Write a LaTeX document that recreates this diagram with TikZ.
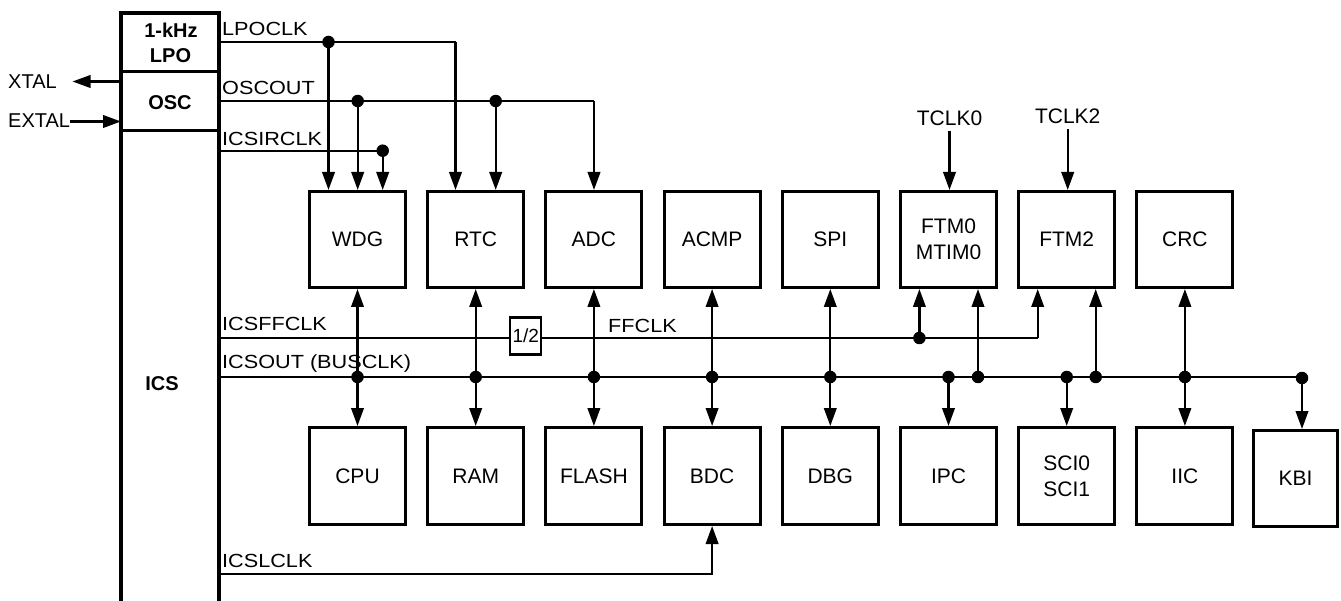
\documentclass[tikz,border=0pt]{standalone}
\usepackage{fontspec}
\setmainfont{Liberation Sans}
\newfontfamily\sigfont[FakeStretch=1.14]{Liberation Sans}
\usetikzlibrary{arrows.meta}
\begin{document}
\begin{tikzpicture}[x=1pt,y=-1pt,
  sig/.style={line width=2.3pt},
  arr/.style={sig,-{Triangle[length=18pt,width=12.5pt]}},
  arrtwo/.style={sig,{Triangle[length=18pt,width=12.5pt]}-{Triangle[length=18pt,width=12.5pt]}},
  blk/.style={draw,line width=3pt,minimum width=96pt,minimum height=96pt,inner sep=0pt,
    font=\fontsize{21}{26}\selectfont,align=center},
  dot/.style={circle,fill,inner sep=0pt,minimum size=12.5pt},
  lab/.style={font=\sigfont\fontsize{19}{23}\selectfont,inner sep=0pt,anchor=base west},
  plainlab/.style={font=\fontsize{20}{24}\selectfont,inner sep=0pt,anchor=base west},
  tlab/.style={font=\fontsize{21}{25}\selectfont,inner sep=0pt,anchor=base},
  boldlab/.style={font=\bfseries\fontsize{20}{24}\selectfont,inner sep=0pt,anchor=base},
]
\useasboundingbox (0,0) rectangle (1341,601);

% ICS block
\draw[line width=3.2pt] (121,601) -- (121,13) -- (219,13) -- (219,601);
\draw[line width=3pt] (121,72) -- (219,72) (121,131) -- (219,131);
\node[boldlab] (khz) at (171,38) {1-kHz};
\node[boldlab] (lpo) at (170.5,63) {LPO};
\node[boldlab] (osc) at (170,110) {OSC};
\node[boldlab] (ics) at (162,390) {ICS};

% XTAL / EXTAL
\node[plainlab] (xtal) at (8,89) {XTAL};
\node[plainlab] (extal) at (8,128) {EXTAL};
\coordinate (xtalout) at (121,81.5);
\coordinate (xtaltip) at (72.5,81.5);
\draw[arr] (xtalout) -- (xtaltip);
\coordinate (extalin) at (121,121.5);
\draw[arr] (extal.east |- extalin) -- (extalin);

% top blocks
\node[blk] (wdg)  at (357.5,239.5) {WDG};
\node[blk] (rtc)  at (475.7,239.5) {RTC};
\node[blk] (adc)  at (593.9,239.5) {ADC};
\node[blk] (acmp) at (712.1,239.5) {ACMP};
\node[blk] (spi)  at (830.3,239.5) {SPI};
\node[blk] (ftm0) at (948.5,239.5) {FTM0\\MTIM0};
\node[blk] (ftm2) at (1066.7,239.5) {FTM2};
\node[blk] (crc)  at (1184.9,239.5) {CRC};

% bottom blocks
\node[blk,minimum height=97pt] (cpu)   at (357.5,476) {CPU};
\node[blk,minimum height=97pt] (ram)   at (475.7,476) {RAM};
\node[blk,minimum height=97pt] (flash) at (593.9,476) {FLASH};
\node[blk,minimum height=97pt] (bdc)   at (712.1,476) {BDC};
\node[blk,minimum height=97pt] (dbg)   at (830.3,476) {DBG};
\node[blk,minimum height=97pt] (ipc)   at (948.5,476) {IPC};
\node[blk,minimum height=97pt] (sci)   at (1066.7,476) {SCI0\\SCI1};
\node[blk,minimum height=97pt] (iic)   at (1184.9,476) {IIC};
\node[blk,minimum width=84pt,minimum height=96pt] (kbi) at (1295.5,478.5) {KBI};

% LPOCLK
\coordinate (lpoclk) at (219,42);
\coordinate (lpoR) at (455.5,42);
\node[lab] (lpolab) at (222,36) {LPOCLK};
\node[dot] (d1) at (328.5,42) {};
\draw[sig] (lpoclk) -- (lpoR);
\draw[arr] (lpoR) -- (lpoR |- rtc.north);
\draw[arr] (d1.center) -- (d1.center |- wdg.north);

% OSCOUT
\coordinate (oscout) at (219,101);
\coordinate (oscR) at (594,101);
\node[lab] (osclab) at (222,95) {OSCOUT};
\node[dot] (d2) at (357.7,101) {};
\node[dot] (d3) at (495.7,101) {};
\draw[sig] (oscout) -- (oscR);
\draw[arr] (oscR) -- (oscR |- adc.north);
\draw[arr] (d2.center) -- (d2.center |- wdg.north);
\draw[arr] (d3.center) -- (d3.center |- rtc.north);

% ICSIRCLK
\coordinate (irclk) at (219,150.7);
\node[lab] (irlab) at (222,145.7) {ICSIRCLK};
\node[dot] (d4) at (382.7,150.7) {};
\draw[sig] (irclk) -- (d4.center);
\draw[arr] (d4.center) -- (d4.center |- wdg.north);

% TCLK inputs
\node[tlab] (tclk0) at (949.5,125.7) {TCLK0};
\node[tlab] (tclk2) at (1067.7,124) {TCLK2};
\draw[arr] ([yshift=-4.5pt]tclk0.south) -- (tclk0.south |- ftm0.north);
\draw[arr] ([yshift=-5pt]tclk2.south) -- (tclk2.south |- ftm2.north);

% ICSFFCLK / FFCLK
\coordinate (ff) at (219,338);
\node[lab] (fflab) at (222,331) {ICSFFCLK};
\node[draw,line width=2.3pt,minimum width=31pt,minimum height=37pt,inner sep=0pt,
  font=\fontsize{19}{22}\selectfont] (half) at (525.8,336) {1/2};
\draw[sig] (ff) -- (ff -| half.west);
\coordinate (ffR) at (1037.7,338);
\node[lab] (ffclklab) at (608,332.7) {FFCLK};
\node[dot] (dff) at (919.4,338) {};
\draw[sig] (ff -| half.east) -- (ffR);
\draw[arr] (ffR) -- (ffR |- ftm2.south);
\draw[arr] (dff.center) -- (dff.center |- ftm0.south);

% ICSOUT (BUSCLK)
\coordinate (bus) at (219,377);
\node[lab] (buslab) at (222,369) {ICSOUT (BUSCLK)};
\node[dot] (bk) at (1302,378) {};
\draw[sig] (bus) -- (bus -| bk.center);
\draw[arrtwo] (wdg.south) -- (cpu.north);
\draw[arrtwo] (rtc.south) -- (ram.north);
\draw[arrtwo] (adc.south) -- (flash.north);
\draw[arrtwo] (acmp.south) -- (bdc.north);
\draw[arrtwo] (spi.south) -- (dbg.north);
\draw[arrtwo] (crc.south) -- (iic.north);
\node[dot] (b1) at (wdg.south |- bus) {};
\node[dot] (b2) at (rtc.south |- bus) {};
\node[dot] (b3) at (adc.south |- bus) {};
\node[dot] (b4) at (acmp.south |- bus) {};
\node[dot] (b5) at (spi.south |- bus) {};
\node[dot] (b6) at (978,377) {};
\node[dot] (b7) at (ipc.north |- bus) {};
\node[dot] (b8) at (sci.north |- bus) {};
\node[dot] (b9) at (1095.7,377) {};
\node[dot] (b10) at (crc.south |- bus) {};
\draw[arr] (b6.center) -- (b6.center |- ftm0.south);
\draw[arr] (b7.center) -- (ipc.north);
\draw[arr] (b8.center) -- (sci.north);
\draw[arr] (b9.center) -- (b9.center |- ftm2.south);
\draw[arr] (bk.center) -- (bk.center |- kbi.north);

% ICSLCLK
\coordinate (lclk) at (219,574);
\node[lab] (lclklab) at (222,567) {ICSLCLK};
\draw[arr] (lclk) -| (bdc.south);
\end{tikzpicture}
\end{document}
